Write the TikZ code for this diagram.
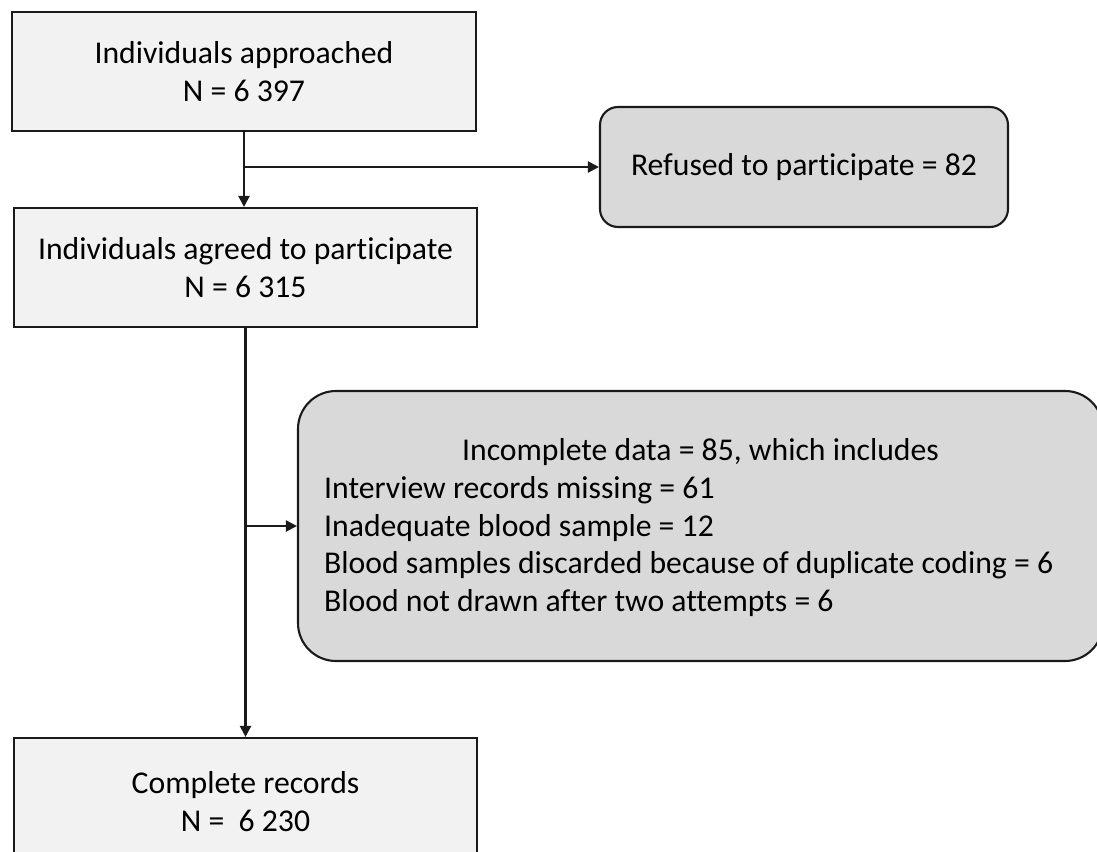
\documentclass[tikz,border=0pt]{standalone}
\usepackage{fontspec}
\setmainfont{Carlito}[Ligatures=NoCommon]
\usetikzlibrary{arrows.meta}
\definecolor{boxlight}{HTML}{F2F2F2}
\definecolor{boxgrey}{HTML}{D9D9D9}
\definecolor{edge}{HTML}{1A1A1A}
\tikzset{
  txt/.style={font=\fontsize{31.7}{37.5}\selectfont},
  sqbox/.style={draw=edge, fill=boxlight, line width=2.1pt, align=center, inner sep=0pt, txt},
  rbox/.style={draw=edge, fill=boxgrey, line width=2.1pt, align=center, inner sep=0pt, txt},
  conn/.style={draw=edge, line width=2.1pt, -{Triangle[length=11pt,width=11pt]}},
}
\begin{document}
\begin{tikzpicture}[x=1pt,y=-1pt]
\useasboundingbox (0,0) rectangle (1097,851);
\clip (0,0) rectangle (1097,851);
\fill[white] (0,0) rectangle (1097,851);

\node[sqbox, minimum width=464pt, minimum height=119pt] (b1) at (244,71.5)
  {Individuals approached\\N = 6 397};
\node[sqbox, minimum width=463pt, minimum height=119pt] (b2) at (245.5,267.5)
  {Individuals agreed to participate\\N = 6 315};
\node[rbox, rounded corners=18pt, minimum width=408pt, minimum height=120pt] (ref) at (804,167)
  {Refused to participate = 82};
\node[rbox, rounded corners=38pt, minimum width=805pt, minimum height=270pt] (b3) at (700.5,526) {};
\node[txt, anchor=center, inner sep=0pt] (b3title) at (700.5,452) {Incomplete data = 85, which includes};
\node[txt, align=left, anchor=west, inner sep=0pt] (b3list) at (324,546.5)
  {Interview records missing = 61\\Inadequate blood sample = 12\\Blood samples discarded because of duplicate coding = 6\\Blood not drawn after two attempts = 6};
\node[sqbox, minimum width=463pt, minimum height=127pt] (b4) at (245.5,801.5)
  {Complete records\\N =\ \ 6 230};

\draw[conn] (b1.south) -- (b1.south |- b2.north);
\draw[conn] (b1.south |- ref.west) -- (ref.west);
\draw[conn] (b2.south) -- (b2.south |- b4.north);
\draw[conn] (b2.south |- b3.west) -- (b3.west);
\end{tikzpicture}
\end{document}
